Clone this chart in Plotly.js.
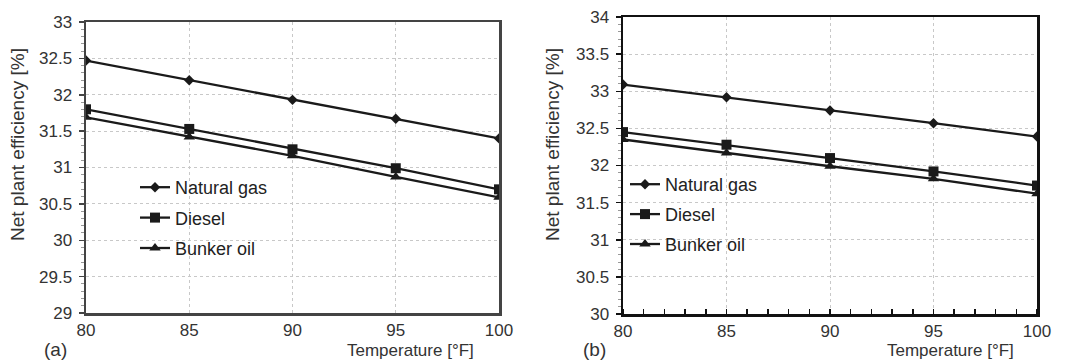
<!DOCTYPE html>
<html>
<head>
<meta charset="utf-8">
<script src="https://cdn.plot.ly/plotly-3.0.1.min.js"></script>
<style>html,body{margin:0;padding:0;background:#fff;}#chart{width:1070px;height:361px;}</style>
</head>
<body>
<div id="chart"></div>
<script>
const temperature = [80, 85, 90, 95, 100];
const seriesNames = ['Natural gas', 'Diesel', 'Bunker oil'];
// Panel (a)
const naturalGasA = [32.47, 32.20, 31.93, 31.67, 31.40];
const dieselA     = [31.80, 31.53, 31.25, 30.99, 30.70];
const bunkerOilA  = [31.69, 31.42, 31.16, 30.87, 30.59];
// Panel (b)
const naturalGasB = [33.09, 32.92, 32.74, 32.57, 32.39];
const dieselB     = [32.45, 32.28, 32.10, 31.92, 31.73];
const bunkerOilB  = [32.35, 32.17, 31.99, 31.82, 31.62];
const yTicksA = [29, 29.5, 30, 30.5, 31, 31.5, 32, 32.5, 33];
const yTicksB = [30, 30.5, 31, 31.5, 32, 32.5, 33, 33.5, 34];
const xTicks = [80, 85, 90, 95, 100];

const W = 1070, H = 361;
const px = v => v / W, py = v => 1 - v / H;

const symbols = ['diamond', 'square', 'triangle-up'];
const sizes = [8, 10, 10];
const lineColor = '#1a1a1a';

function mk(name, y, i, xa, ya, leg) {
  return {
    x: temperature, y: y, name: name, type: 'scatter', mode: 'lines+markers',
    xaxis: xa, yaxis: ya, legend: leg, legendgroup: leg + i,
    line: {color: lineColor, width: 2.3},
    marker: {symbol: symbols[i], size: sizes[i], color: lineColor}
  };
}
const data = [
  mk(seriesNames[0], naturalGasA, 0, 'x', 'y', 'legend'),
  mk(seriesNames[1], dieselA, 1, 'x', 'y', 'legend'),
  mk(seriesNames[2], bunkerOilA, 2, 'x', 'y', 'legend'),
  mk(seriesNames[0], naturalGasB, 0, 'x2', 'y2', 'legend2'),
  mk(seriesNames[1], dieselB, 1, 'x2', 'y2', 'legend2'),
  mk(seriesNames[2], bunkerOilB, 2, 'x2', 'y2', 'legend2')
];

const FAM = 'Liberation Sans, Arial, sans-serif';
const tickFont = {family: FAM, size: 17, color: '#333'};
const gridCfg = {showgrid: true, gridcolor: '#c8c8c8', griddash: 'dot', gridwidth: 1, zeroline: false};

function xax(domain, anchor, borderColor, minorTicks) {
  return Object.assign({
    domain: domain, anchor: anchor, range: [80, 100], tickvals: xTicks, ticktext: xTicks.map(String),
    showline: true, linecolor: borderColor, linewidth: 2.5, mirror: true,
    ticks: '', tickfont: tickFont, fixedrange: true,
    minor: minorTicks ? {dtick: 1, ticks: 'inside', ticklen: 5, tickcolor: '#111', tickwidth: 1.5, showgrid: false} : undefined
  }, gridCfg);
}
function yax(domain, anchor, range, ticks, borderColor) {
  return Object.assign({
    domain: domain, anchor: anchor, range: range, tickvals: ticks, ticktext: ticks.map(String),
    showline: true, linecolor: borderColor, linewidth: 2.5, mirror: true,
    ticks: 'outside', ticklen: 5, tickcolor: borderColor, tickwidth: 1.5,
    tickfont: tickFont, fixedrange: true, ticklabelstandoff: 3,
    minor: {dtick: 0.1, ticks: 'outside', ticklen: 3, tickcolor: '#999', tickwidth: 1, showgrid: false}
  }, gridCfg);
}

const yTitleFont = {family: FAM, size: 19, color: '#333'};
const xTitleFont = {family: FAM, size: 17, color: '#333'};
const labFont = {family: FAM, size: 19, color: '#333'};
const legFont = {family: FAM, size: 18, color: '#222'};

const layout = {
  width: W, height: H,
  margin: {l: 0, r: 0, t: 0, b: 0},
  paper_bgcolor: '#fff', plot_bgcolor: '#fff',
  xaxis: xax([px(86), px(499)], 'y', '#444', false),
  yaxis: yax([py(313), py(22)], 'x', [29, 33], yTicksA, '#444'),
  xaxis2: xax([px(623), px(1037)], 'y2', '#111', true),
  yaxis2: yax([py(314), py(17)], 'x2', [30, 34], yTicksB, '#111'),
  legend: {x: px(135), y: py(169), xanchor: 'left', yanchor: 'top', bgcolor: 'rgba(0,0,0,0)',
           font: legFont, tracegroupgap: 4, itemwidth: 30, traceorder: 'grouped'},
  legend2: {x: px(625), y: py(166), xanchor: 'left', yanchor: 'top', bgcolor: 'rgba(0,0,0,0)',
           font: legFont, tracegroupgap: 3.5, itemwidth: 30, traceorder: 'grouped'},
  showlegend: true,
  annotations: [
    {text: 'Net plant efficiency [%]', xref: 'paper', yref: 'paper', x: px(18), y: py(145),
     textangle: -90, showarrow: false, font: yTitleFont, xanchor: 'center', yanchor: 'middle'},
    {text: 'Net plant efficiency [%]', xref: 'paper', yref: 'paper', x: px(553), y: py(145),
     textangle: -90, showarrow: false, font: yTitleFont, xanchor: 'center', yanchor: 'middle'},
    {text: 'Temperature [°F]', xref: 'paper', yref: 'paper', x: px(410), y: 0, borderpad: 0,
     showarrow: false, font: xTitleFont, xanchor: 'center', yanchor: 'bottom'},
    {text: 'Temperature [°F]', xref: 'paper', yref: 'paper', x: px(950), y: 0, borderpad: 0,
     showarrow: false, font: xTitleFont, xanchor: 'center', yanchor: 'bottom'},
    {text: '(a)', xref: 'paper', yref: 'paper', x: px(55), y: 0, borderpad: 0,
     showarrow: false, font: labFont, xanchor: 'center', yanchor: 'bottom'},
    {text: '(b)', xref: 'paper', yref: 'paper', x: px(594), y: 0, borderpad: 0,
     showarrow: false, font: labFont, xanchor: 'center', yanchor: 'bottom'}
  ]
};

Plotly.newPlot('chart', data, layout, {staticPlot: true, displayModeBar: false});
</script>
</body>
</html>
